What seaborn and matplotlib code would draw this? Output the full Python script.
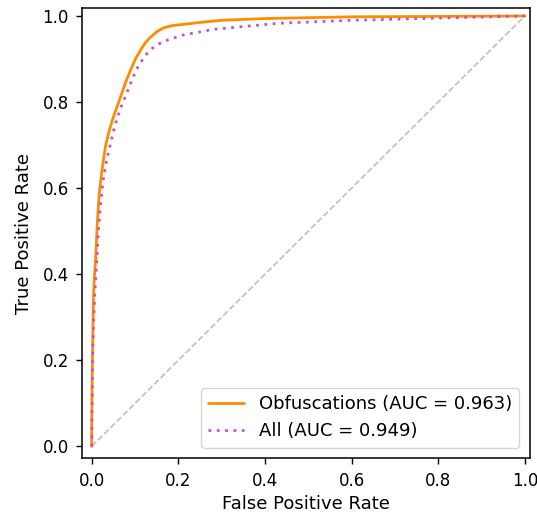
import numpy as np
import pandas as pd
import matplotlib
matplotlib.use('Agg')
import matplotlib.pyplot as plt
import seaborn as sns

# ── ROC curve points ──────────────────────────────────────────────────────────
obf_fpr = [0.0, 0.0, 0.001, 0.002, 0.004, 0.006, 0.009, 0.013, 0.017, 0.021,
           0.025, 0.032, 0.039, 0.048, 0.057, 0.067, 0.078, 0.09, 0.101, 0.113,
           0.124, 0.135, 0.151, 0.165, 0.182, 0.25, 0.3, 0.4, 0.6, 0.8, 1.0]
obf_tpr = [0.0, 0.05, 0.15, 0.227, 0.343, 0.39, 0.435, 0.52, 0.582, 0.62,
           0.651, 0.698, 0.728, 0.759, 0.785, 0.813, 0.845, 0.875, 0.900, 0.921,
           0.938, 0.950, 0.964, 0.972, 0.977, 0.985, 0.990, 0.994, 0.998, 0.999, 1.0]

all_fpr = [0.0, 0.0, 0.002, 0.004, 0.008, 0.012, 0.016, 0.021, 0.026, 0.032,
           0.038, 0.044, 0.051, 0.059, 0.068, 0.078, 0.088, 0.098, 0.107, 0.117,
           0.128, 0.14, 0.157, 0.175, 0.212, 0.282, 0.431, 0.6, 0.8, 1.0]
all_tpr = [0.0, 0.01, 0.18, 0.281, 0.37, 0.435, 0.51, 0.567, 0.615, 0.651,
           0.68, 0.706, 0.735, 0.763, 0.789, 0.813, 0.839, 0.863, 0.882, 0.898,
           0.913, 0.925, 0.936, 0.944, 0.956, 0.969, 0.983, 0.990, 0.995, 1.0]

labels = ['Obfuscations (AUC = 0.963)', 'All (AUC = 0.949)']

df = pd.concat([
    pd.DataFrame({'fpr': obf_fpr, 'tpr': obf_tpr, 'curve': labels[0]}),
    pd.DataFrame({'fpr': all_fpr, 'tpr': all_tpr, 'curve': labels[1]}),
])

sns.set_style("ticks", {'axes.edgecolor': 'black', 'text.color': 'black',
                        'axes.labelcolor': 'black', 'xtick.color': 'black',
                        'ytick.color': 'black'})
plt.rcParams['font.size'] = 13

fig, ax = plt.subplots(figsize=(5.37, 5.14), dpi=100)
fig.subplots_adjust(left=0.153, right=0.987, bottom=0.108, top=0.984)

sns.lineplot(data=df, x='fpr', y='tpr', hue='curve', style='curve',
             palette={labels[0]: 'darkorange', labels[1]: 'mediumorchid'},
             dashes={labels[0]: '', labels[1]: (1, 2)},
             sort=False, estimator=None, lw=2, ax=ax)
ax.plot([0, 1], [0, 1], ls='--', color='gray', alpha=0.5, lw=1.2)

ax.set_xlim(-0.022, 1.012)
ax.set_ylim(-0.028, 1.018)
ax.set_xlabel('False Positive Rate', fontsize=13)
ax.set_ylabel('True Positive Rate', fontsize=13, labelpad=7)
ax.tick_params(labelsize=12, length=4.5, width=1, pad=5)
for s in ax.spines.values():
    s.set_linewidth(1.1)
ax.legend(loc='lower right', fontsize=13, title=None, borderaxespad=0.6)

plt.savefig('out.png', dpi=100)
plt.close()
